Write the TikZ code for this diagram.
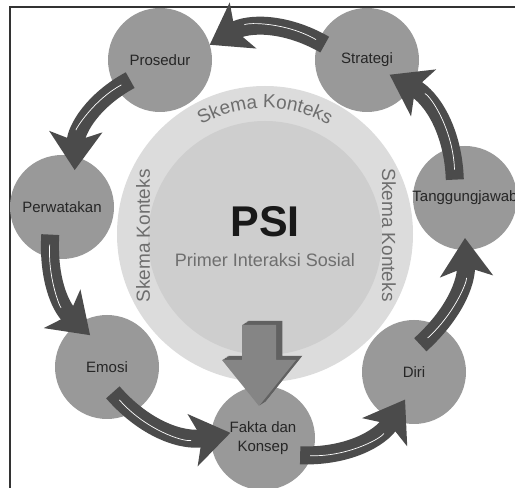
\documentclass[tikz,border=0pt]{standalone}
\usepackage{fontspec}
\setmainfont{Liberation Sans}
\usetikzlibrary{arrows.meta,calc,decorations.text}
\definecolor{ringgray}{HTML}{DCDCDC}
\definecolor{coregray}{HTML}{CECECE}
\definecolor{bubblegray}{HTML}{999999}
\definecolor{flowgray}{HTML}{4B4B4B}
\definecolor{faintgray}{HTML}{6E6E6E}
\def\lbl{\fontsize{15}{19}\selectfont}
\def\skema{\fontsize{19}{19}\selectfont}
% block arrow pointing down into the bottom bubble
\def\BLK#1{\fill[#1] (242,163) -- (276,163) -- (276,128) -- (296,128) -- (259,82) -- (222,128) -- (242,128) -- cycle;}

\begin{document}
\begin{tikzpicture}[x=1pt,y=1pt,
  bubble/.style={circle,fill=bubblegray,minimum size=104pt,inner sep=0pt,
    label={[font=\lbl,align=center,text=black!85]center:#1}},
  flow/.style={draw=flowgray,line width=18pt,-{Stealth[length=38pt,width=52pt,inset=9pt]},
    postaction={draw=white,line width=0.7pt,-,shorten >=40pt,shorten <=10pt}},
  side/.style={font=\skema,text=faintgray}]
  \useasboundingbox (0,0) rectangle (515,488);
  \clip (0,0) rectangle (515,488);
  \draw[line width=1.6pt,black!80] (10,-10) rectangle (530,481);

  % centre
  \fill[ringgray] (265,254) circle (148);
  \fill[coregray] (265,250) circle (117);
  \node[font=\bfseries\fontsize{43}{43}\selectfont,text=black!90] (psi) at (265,266) {PSI};
  \node[font=\fontsize{18}{18}\selectfont,text=faintgray] (sub) at (265,228) {Primer Interaksi Sosial};
  \path[decorate,decoration={text along path,text align=center,text color=faintgray,
      text={|\skema|Skema Konteks}}]
    (265,254) ++(150:126) arc[start angle=150,end angle=30,radius=126];
  \node[side,rotate=90] (skl) at (143,252) {Skema Konteks};
  \node[side,rotate=-90] (skr) at (389,253) {Skema Konteks};

  % bubbles
  \node[bubble=Prosedur] (prosedur) at (160,428) {};
  \node[bubble=Strategi] (strategi) at (367,428) {};
  \node[bubble=Tanggungjawab] (tanggung) at (465,290) {};
  \node[bubble=Diri] (diri) at (414,116) {};
  \node[bubble={Fakta dan\\Konsep}] (fakta) at (263,50) {};
  \node[bubble=Emosi] (emosi) at (107,121) {};
  \node[bubble=Perwatakan] (watak) at (62,281) {};

  \foreach \k in {7,...,1} {\BLK{black!62,shift={(\k*0.9,\k*0.6)}}}
  \BLK{black!48}

  % cycle of arrows
  \foreach \a/\aa/\ad/\b/\ba/\bd/\bend in {emosi/-77/26/fakta/171/33/30,
      fakta/-25/41/diri/-108/29/30, diri/77/28/tanggung/-90/40/25,
      tanggung/119/21/strategi/-33/27/30, strategi/160/45/prosedur/17/52/30,
      prosedur/-146/36/watak/71/39/30, watak/-113/30/emosi/118/36/25}
    \draw[flow] ($(\a)+(\aa:\ad)$) to[bend right=\bend] ($(\b)+(\ba:\bd)$);
\end{tikzpicture}
\end{document}
